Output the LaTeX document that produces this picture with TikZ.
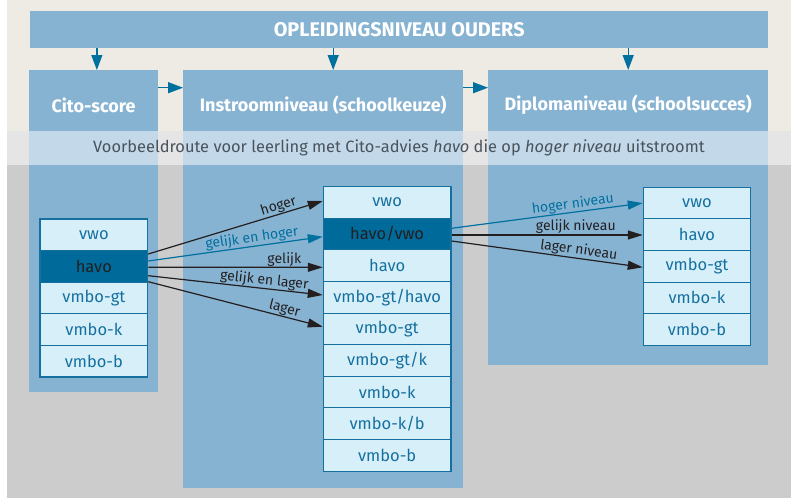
\documentclass[tikz,border=0pt]{standalone}
\usepackage{fontspec}
\setmainfont{Fira Sans}
\usetikzlibrary{arrows.meta}
\definecolor{beigebg}{HTML}{EEEBE4}
\definecolor{graybg}{HTML}{CCCCCC}
\definecolor{colblue}{HTML}{87B3D3}
\definecolor{arrowblue}{HTML}{00709F}
\definecolor{cellfill}{HTML}{D7EFF8}
\definecolor{cellline}{HTML}{1570A0}
\definecolor{darkcell}{HTML}{006A9A}
\definecolor{inkblack}{HTML}{231F20}
\definecolor{bandtext}{HTML}{4A535C}
\tikzset{
  colbox/.style={fill=colblue, inner sep=0, anchor=north west},
  titletext/.style={text=white, font=\fontsize{18}{18}\selectfont\bfseries},
  cell/.style={draw=cellline, fill=cellfill, text=cellline, line width=1.1pt,
    inner sep=0, minimum height=31.6pt, font=\fontsize{16.5}{16.5}\selectfont},
  darkc/.style={cell, fill=darkcell, text=inkblack},
  downarrow/.style={draw=arrowblue, line width=1.3pt, -{Triangle[length=15pt,width=11pt]}},
  blackarrow/.style={draw=inkblack, line width=1.2pt, -{Triangle[length=15pt,width=9pt]}},
  bluearrow/.style={draw=arrowblue, line width=1.2pt, -{Triangle[length=15pt,width=9pt]}},
  lbl/.style={sloped, above, inner sep=0.5pt, font=\fontsize{14}{14}\selectfont},
}
\begin{document}
\begin{tikzpicture}[x=1pt,y=-1pt]
\useasboundingbox (0,0) rectangle (795,498);
\fill[beigebg] (7,0) rectangle (791,131);
\fill[graybg] (7,131) rectangle (791,498);

% banner and columns
\node[colbox, minimum width=738pt, minimum height=36.7pt] (ouders) at (30,11) {};
\node[titletext, font=\fontsize{19.8}{19.8}\selectfont\bfseries] at (ouders.center) {OPLEIDINGSNIVEAU OUDERS};
\node[colbox, minimum width=128.7pt, minimum height=321.7pt] (cito) at (29,70) {};
\node[colbox, minimum width=280pt, minimum height=417.7pt] (instroom) at (183,70) {};
\node[colbox, minimum width=280pt, minimum height=294.7pt] (diploma) at (488,70) {};
\node[titletext] at ([yshift=-35pt]cito.north) {Cito-score};
\node[titletext] at ([yshift=-35pt]instroom.north) {Instroomniveau (schoolkeuze)};
\node[titletext] at ([yshift=-35pt]diploma.north) {Diplomaniveau (schoolsucces)};

\draw[downarrow] ([xshift=3.3pt]cito.north |- ouders.south) -- ([xshift=3.3pt]cito.north);
\draw[downarrow] ([xshift=10pt]instroom.north |- ouders.south) -- ([xshift=10pt]instroom.north);
\draw[downarrow] (diploma.north |- ouders.south) -- (diploma.north);
\draw[downarrow] ([yshift=-17.7pt]cito.north east) -- ([yshift=-17.7pt]instroom.north west);
\draw[downarrow] ([yshift=-17.7pt]instroom.north east) -- ([yshift=-17.7pt]diploma.north west);

% band
\fill[white, opacity=0.5] (7,131) rectangle (791,165);
\node[text=bandtext, font=\fontsize{16.4}{16.4}\selectfont] (band) at (399,148)
  {Voorbeeldroute voor leerling met Cito-advies \textit{havo} die op \textit{hoger niveau} uitstroomt};

% left stack
\begin{scope}[every node/.append style={minimum width=107.7pt}]
\node[cell]  (c1) at (93.85,234.8) {vwo};
\node[darkc] (c2) at (93.85,266.4) {havo};
\node[cell]  (c3) at (93.85,298.0) {vmbo-gt};
\node[cell]  (c4) at (93.85,329.6) {vmbo-k};
\node[cell]  (c5) at (93.85,361.2) {vmbo-b};
\end{scope}
% middle stack
\begin{scope}[every node/.append style={minimum width=127.7pt}]
\node[cell]  (m1) at (387.15,202.5) {vwo};
\node[darkc] (m2) at (387.15,234.1) {havo/vwo};
\node[cell]  (m3) at (387.15,265.7) {havo};
\node[cell]  (m4) at (387.15,297.3) {vmbo-gt/havo};
\node[cell]  (m5) at (387.15,328.9) {vmbo-gt};
\node[cell]  (m6) at (387.15,360.5) {vmbo-gt/k};
\node[cell]  (m7) at (387.15,392.1) {vmbo-k};
\node[cell]  (m8) at (387.15,423.7) {vmbo-k/b};
\node[cell]  (m9) at (387.15,455.3) {vmbo-b};
\end{scope}
% right stack
\begin{scope}[every node/.append style={minimum width=107.4pt}]
\node[cell] (r1) at (697,203.1) {vwo};
\node[cell] (r2) at (697,234.7) {havo};
\node[cell] (r3) at (697,266.3) {vmbo-gt};
\node[cell] (r4) at (697,297.9) {vmbo-k};
\node[cell] (r5) at (697,329.5) {vmbo-b};
\end{scope}

% left arrows
\draw[blackarrow] ([yshift=12.4pt]c2.east) -- node[lbl, pos=0.76, text=inkblack] {hoger} ([yshift=1.5pt]m1.west);
\draw[bluearrow] ([yshift=5.4pt]c2.east) -- node[lbl, pos=0.6, text=arrowblue] {gelijk en hoger} ([yshift=-2.6pt]m2.west);
\draw[blackarrow] ([yshift=-0.9pt]c2.east) -- node[lbl, pos=0.78, text=inkblack] {gelijk} ([yshift=-1.6pt]m3.west);
\draw[blackarrow] ([yshift=-9.3pt]c2.east) -- node[lbl, pos=0.66, text=inkblack] {gelijk en lager} ([yshift=2.3pt]m4.west);
\draw[blackarrow] ([yshift=-15.3pt]c2.east) -- node[lbl, pos=0.77, text=inkblack] {lager} ([yshift=2.2pt]m5.west);

% right arrows
\draw[bluearrow] ([yshift=5.8pt]m2.east) -- node[lbl, pos=0.64, text=arrowblue] {hoger niveau} (r1.west);
\draw[blackarrow] ([yshift=-0.9pt]m2.east) -- node[lbl, pos=0.65, text=inkblack] {gelijk niveau} ([yshift=-0.3pt]r2.west);
\draw[blackarrow] ([yshift=-6.9pt]m2.east) -- node[lbl, pos=0.66, text=inkblack] {lager niveau} ([yshift=-1pt]r3.west);
\end{tikzpicture}
\end{document}
